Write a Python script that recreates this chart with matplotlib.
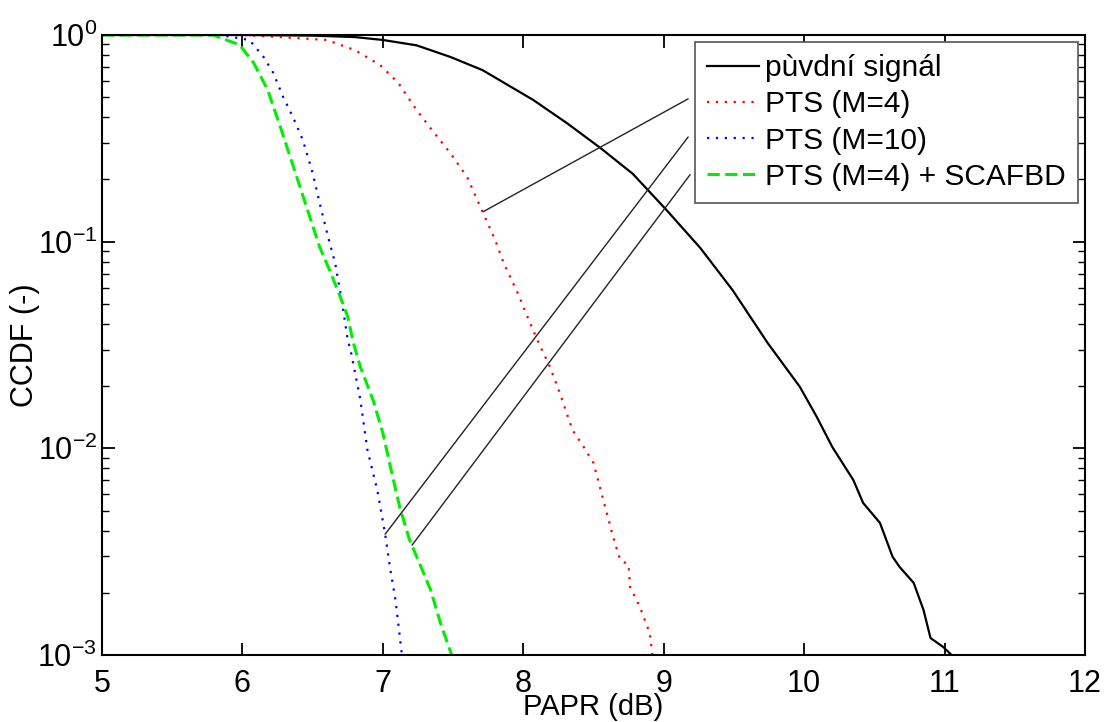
import numpy as np
import matplotlib
matplotlib.use("Agg")
from matplotlib import pyplot as plt

plt.rcParams['font.family'] = ['Liberation Sans', 'DejaVu Sans']
plt.rcParams['mathtext.fontset'] = 'custom'
plt.rcParams['mathtext.rm'] = 'Liberation Sans'

# puvodni signal (PAPR dB, log10 CCDF)
x_orig = [5.0, 6.0, 6.5, 6.8, 7.0, 7.24, 7.48, 7.71, 7.83, 8.07, 8.31, 8.55, 8.78, 9.02,
          9.26, 9.49, 9.74, 9.97, 10.09, 10.2, 10.35, 10.42, 10.54, 10.63, 10.68, 10.78,
          10.85, 10.9, 10.99, 11.05]
ly_orig = [0.0, 0.0, -0.003, -0.01, -0.024, -0.05, -0.106, -0.17, -0.218, -0.314, -0.426,
           -0.547, -0.672, -0.847, -1.03, -1.234, -1.49, -1.703, -1.848, -1.993, -2.153,
           -2.264, -2.361, -2.525, -2.574, -2.651, -2.782, -2.918, -2.961, -3.0]

# PTS (M=4)
x_pts4 = [5.0, 6.0, 6.27, 6.6, 6.8, 6.98, 7.11, 7.24, 7.36, 7.48, 7.6, 7.71, 7.8, 7.86,
          7.96, 8.03, 8.1, 8.19, 8.26, 8.35, 8.43, 8.5, 8.57, 8.64, 8.69, 8.75, 8.76,
          8.83, 8.9, 8.92]
ly_pts4 = [0.0, 0.0, -0.01, -0.024, -0.073, -0.145, -0.232, -0.363, -0.469, -0.571,
           -0.687, -0.856, -0.992, -1.103, -1.248, -1.364, -1.476, -1.606, -1.732, -1.911,
           -1.993, -2.071, -2.25, -2.429, -2.54, -2.564, -2.67, -2.767, -2.893, -3.0]

# PTS (M=10)
x_pts10 = [5.0, 5.84, 6.05, 6.15, 6.22, 6.29, 6.36, 6.43, 6.5, 6.55, 6.61, 6.66, 6.71,
           6.75, 6.77, 6.84, 6.89, 6.96, 7.015, 7.05, 7.09, 7.136]
ly_pts10 = [0.0, 0.0, -0.024, -0.106, -0.184, -0.3, -0.397, -0.508, -0.668, -0.813,
            -0.977, -1.103, -1.297, -1.476, -1.524, -1.766, -2.008, -2.201, -2.409,
            -2.574, -2.734, -3.0]

# PTS (M=4) + SCAFBD
x_scaf = [5.0, 5.79, 5.98, 6.08, 6.18, 6.27, 6.34, 6.41, 6.48, 6.55, 6.62, 6.7, 6.75,
          6.79, 6.84, 6.93, 7.0, 7.07, 7.12, 7.19, 7.26, 7.34, 7.41, 7.49]
ly_scaf = [0.0, 0.0, -0.048, -0.135, -0.266, -0.445, -0.59, -0.735, -0.881, -1.026,
           -1.137, -1.272, -1.364, -1.49, -1.606, -1.766, -1.926, -2.138, -2.284, -2.443,
           -2.555, -2.685, -2.845, -3.0]

# callout lines: (point on curve, point at legend)
callouts = [((7.714, 0.1396), (9.174, 0.491)),
            ((7.016, 0.00384), (9.174, 0.321)),
            ((7.208, 0.0034), (9.188, 0.211))]

labels = ['pùvdní signál', 'PTS (M=4)', 'PTS (M=10)', 'PTS (M=4) + SCAFBD']

fig = plt.figure(figsize=(11.04, 7.22), dpi=100)
ax = fig.add_axes([102 / 1104, 1 - 655 / 722, 983 / 1104, 620 / 722])

ax.semilogy(x_orig, 10 ** np.array(ly_orig), color='black', lw=1.6, label=labels[0])
ax.semilogy(x_pts4, 10 ** np.array(ly_pts4), color='red', lw=1.6,
            linestyle=(0, (1, 3.0)), label=labels[1])
ax.semilogy(x_pts10, 10 ** np.array(ly_pts10), color='blue', lw=1.6,
            linestyle=(0, (1, 3.0)), label=labels[2])
ax.semilogy(x_scaf, 10 ** np.array(ly_scaf), color='#00ee00', lw=2.2,
            linestyle=(0, (4, 1.8)), label=labels[3])

for p0, p1 in callouts:
    ax.annotate('', xy=p0, xytext=p1,
                arrowprops=dict(arrowstyle='-', color='#222222', lw=1.0,
                                shrinkA=0, shrinkB=0))

ax.set_xlim(5, 12)
ax.set_ylim(1e-3, 1)
ax.set_xticks(range(5, 13))
ax.tick_params(which='both', direction='in', top=True, right=True, labelsize=22)
ax.tick_params(which='major', length=9, width=1.3)
ax.tick_params(which='minor', length=5, width=1.0)
ax.tick_params(axis='x', pad=10)
for s in ax.spines.values():
    s.set_linewidth(1.5)

ax.set_xlabel('PAPR (dB)', fontsize=21, labelpad=-4)
ax.set_ylabel('CCDF (-)', fontsize=22, labelpad=-2)

leg = ax.legend(loc='upper right', fontsize=21.5, frameon=True, fancybox=False,
                edgecolor='#555555', framealpha=1, labelspacing=0.27,
                handlelength=1.75, handletextpad=0.2, borderpad=0.4,
                borderaxespad=0.25)
leg.get_frame().set_linewidth(1.2)

fig.savefig('out.png', dpi=100)
